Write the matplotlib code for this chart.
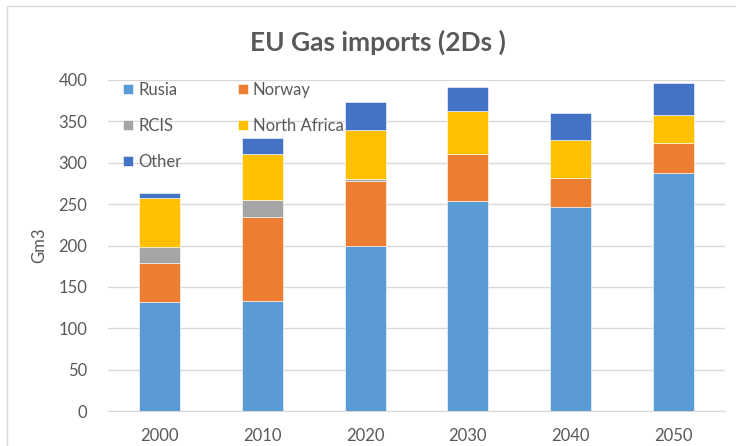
import matplotlib
matplotlib.use("Agg")
import matplotlib.pyplot as plt
from matplotlib.patches import Rectangle
import numpy as np

plt.rcParams['font.family'] = ['Lato', 'DejaVu Sans']

years = ["2000", "2010", "2020", "2030", "2040", "2050"]
rusia = [132, 133, 200, 254, 247, 288]
norway = [47, 102, 78, 57, 35, 36]
rcis = [19, 20, 2, 0, 0, 0]
north_africa = [60, 55, 60, 51, 45, 34]
other = [6, 20, 34, 30, 33, 38]

series = [
    ("Rusia", rusia, "#5B9BD5"),
    ("Norway", norway, "#ED7D31"),
    ("RCIS", rcis, "#A5A5A5"),
    ("North Africa", north_africa, "#FFC000"),
    ("Other", other, "#4472C4"),
]

W, H = 736, 446
fig = plt.figure(figsize=(W / 100, H / 100), dpi=100)
fig.patches.append(Rectangle((7 / W, -0.1), 1.2, 1 - 6 / H + 0.1, transform=fig.transFigure,
                             fill=False, edgecolor="#d9d9d9", linewidth=1))

ax = fig.add_axes([108 / W, 1 - 411 / H, (725 - 108) / W, (411 - 80) / H])
x = np.arange(len(years))
bottom = np.zeros(len(years))
handles = {}
for name, vals, col in series:
    v = np.array(vals, dtype=float)
    b = ax.bar(x, v, 0.4, bottom=bottom, color=col, edgecolor="white", linewidth=0.4,
               label=name, zorder=3)
    handles[name] = b
    bottom += v

ax.set_xlim(-0.5, len(years) - 0.5)
ax.set_ylim(0, 400)
ax.set_yticks(np.arange(0, 401, 50))
ax.set_xticks(x)
ax.set_xticklabels(years)
ax.grid(axis="y", color="#d9d9d9", linewidth=1, zorder=0)
for s in ["top", "right", "left"]:
    ax.spines[s].set_visible(False)
ax.spines["bottom"].set_color("#d9d9d9")
ax.tick_params(axis="both", length=0, labelsize=12, colors="#595959")
ax.tick_params(axis="x", pad=12)
ax.tick_params(axis="y", pad=15)
ax.set_ylabel("Gm3", fontsize=12, color="#595959", labelpad=8)

order = ["Rusia", "RCIS", "Other", "Norway", "North Africa"]
leg = ax.legend([handles[n] for n in order], order, ncol=2, loc="upper left",
                bbox_to_anchor=(0.0, 1.04), frameon=False, fontsize=12,
                labelcolor="#595959", handlelength=0.6, handleheight=0.6,
                handletextpad=0.3, labelspacing=1.2, columnspacing=3.4)

fig.text(378 / W, 1 - 42 / H, "EU Gas imports (2Ds )", ha="center", va="center",
         fontsize=19, fontweight="bold", color="#595959")

fig.savefig("out.png", dpi=100)
